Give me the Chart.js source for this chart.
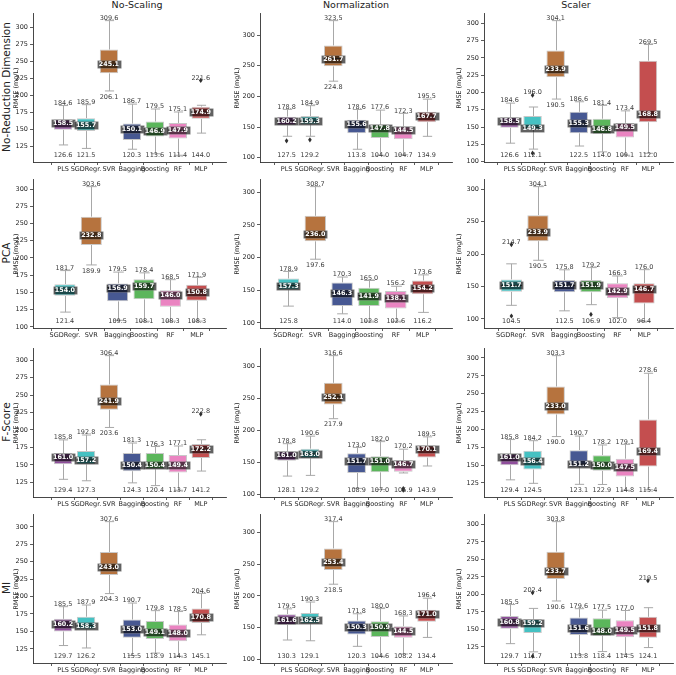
<!DOCTYPE html>
<html>
<head>
<meta charset="utf-8">
<script src="https://cdn.jsdelivr.net/npm/chart.js@4.4.1/dist/chart.umd.min.js"></script>
<style>
  body { margin: 0; background: #fff; }
  #fig { position: relative; width: 676px; height: 675px; font-family: "DejaVu Sans", sans-serif; color: #222; overflow: hidden; }
  .panel { position: absolute; }
  .coltitle { position: absolute; top: 0; font-size: 9.5px; line-height: 9.5px; transform: translateX(-50%); white-space: nowrap; }
  .rowtitle { position: absolute; left: 6px; font-size: 10.5px; line-height: 10.5px; white-space: nowrap; transform: translate(-50%, -50%) rotate(-90deg); }
</style>
</head>
<body>
<div id="fig"></div>
<script>
// column / row headings
const scalings = ["No-Scaling", "Normalization", "Scaler"];
const reductions = ["No-Reduction Dimension", "PCA", "F-Score", "MI"];

// models per row (PCA row has no PLS)
const modelsAll = ["PLS", "SGDRegr.", "SVR", "Bagging", "Boosting", "RF", "MLP"];
const modelsPCA = ["SGDRegr.", "SVR", "Bagging", "Boosting", "RF", "MLP"];
const rowModels = [modelsAll, modelsPCA, modelsAll, modelsAll];

// panel order: row by row, No-Scaling / Normalization / Scaler
const maxVals = [
  [184.6, 185.9, 309.6, 186.7, 179.5, 175.1, 221.6],
  [178.8, 184.9, 323.5, 178.6, 177.6, 172.3, 195.5],
  [184.6, 196.0, 304.1, 186.6, 181.4, 173.4, 269.5],
  [181.7, 303.6, 179.5, 178.4, 168.5, 171.9],
  [178.9, 308.7, 170.3, 165.0, 156.2, 173.6],
  [214.7, 304.1, 175.8, 179.2, 166.3, 176.0],
  [185.8, 192.8, 306.4, 181.3, 176.3, 177.1, 222.8],
  [178.8, 190.6, 316.6, 173.0, 182.0, 170.2, 189.5],
  [185.8, 184.2, 303.3, 190.7, 178.2, 179.1, 278.6],
  [185.5, 187.9, 307.6, 190.7, 179.8, 178.5, 204.6],
  [179.5, 190.3, 317.4, 171.8, 180.0, 168.3, 196.4],
  [185.5, 202.4, 303.8, 179.6, 177.5, 177.0, 219.5]
];
const medVals = [
  [158.5, 155.7, 245.1, 150.1, 146.9, 147.9, 174.9],
  [160.2, 159.3, 261.7, 155.6, 147.8, 144.5, 167.7],
  [158.5, 149.3, 233.9, 155.3, 146.8, 149.5, 168.8],
  [154.0, 232.8, 156.9, 159.7, 146.0, 150.8],
  [157.3, 236.0, 146.3, 141.9, 138.1, 154.2],
  [151.7, 233.9, 151.7, 151.9, 142.9, 146.7],
  [161.0, 157.2, 241.9, 150.4, 150.4, 149.4, 172.2],
  [161.0, 163.0, 252.1, 151.7, 151.0, 146.7, 170.1],
  [161.0, 156.4, 233.0, 151.2, 150.0, 147.5, 169.4],
  [160.2, 158.3, 243.0, 153.0, 149.1, 148.0, 170.8],
  [161.6, 162.5, 253.4, 150.3, 150.9, 144.5, 171.0],
  [160.8, 159.2, 233.7, 151.6, 148.0, 149.5, 151.8]
];
const minVals = [
  [126.6, 121.5, 206.1, 120.3, 113.6, 111.4, 144.0],
  [127.5, 129.2, 224.8, 113.8, 104.0, 104.7, 134.9],
  [126.6, 112.1, 190.5, 122.5, 114.0, 109.1, 112.0],
  [121.4, 189.9, 109.5, 108.1, 108.3, 108.3],
  [125.8, 197.6, 114.0, 102.8, 102.6, 116.2],
  [104.5, 190.5, 112.5, 106.9, 102.0, 96.4],
  [129.4, 127.3, 203.6, 124.3, 120.4, 113.7, 141.2],
  [128.1, 129.2, 217.9, 108.9, 107.0, 105.9, 143.9],
  [129.4, 124.5, 190.0, 123.1, 122.9, 114.8, 115.4],
  [129.7, 126.2, 204.3, 115.5, 118.9, 114.3, 145.1],
  [130.3, 129.1, 218.5, 120.3, 104.6, 108.2, 134.4],
  [129.7, 111.7, 190.6, 113.8, 118.4, 114.5, 124.1]
];
const q1Vals = [
  [149, 147, 232, 134, 139, 136, 165],
  [153, 154, 249, 140, 132, 130, 158],
  [149, 146, 222, 141, 140, 135, 157],
  [145, 219, 137, 140, 129, 138],
  [151, 225, 126, 126, 122, 144],
  [142, 220, 141, 141, 132, 124],
  [151, 151, 229, 141, 144, 139, 160],
  [152, 156, 240, 133, 134, 135, 157],
  [150, 144, 221, 147, 142, 134, 148],
  [150, 153, 231, 141, 139, 136, 162],
  [154, 156, 241, 139, 135, 134, 159],
  [151, 145, 222, 142, 141, 139, 138]
];
const q3Vals = [
  [164, 166, 267, 158, 161, 159, 183],
  [167, 168, 283, 162, 154, 151, 175],
  [164, 166, 261, 172, 162, 156, 246],
  [162, 260, 163, 169, 153, 161],
  [168, 264, 162, 154, 149, 165],
  [161, 260, 160, 160, 155, 155],
  [167, 170, 265, 167, 167, 164, 180],
  [167, 171, 274, 164, 159, 153, 176],
  [166, 170, 260, 171, 164, 159, 214],
  [168, 171, 264, 167, 165, 160, 183],
  [171, 173, 275, 161, 160, 152, 178],
  [169, 165, 261, 167, 166, 163, 168]
];
// [panel, model index, whisker low, whisker high] where fliers exist
const whiskerEnds = [
  [0, 6, 144.0, 185],
  [1, 0, 135, 178.8], [1, 1, 135, 184.9],
  [2, 1, 118, 179],
  [5, 0, 121, 185], [5, 3, 122, 179.2],
  [6, 6, 141.2, 186],
  [7, 5, 133, 170.2],
  [11, 1, 118, 180], [11, 6, 124.1, 181]
];
// [panel, model index, value]
const fliers = [
  [0, 6, 221.6],
  [1, 0, 127.5], [1, 1, 129.2],
  [2, 1, 196.0], [2, 1, 112.1],
  [5, 0, 214.7], [5, 0, 104.5], [5, 3, 106.9],
  [6, 6, 222.8],
  [7, 5, 108.5], [7, 5, 105.9],
  [11, 1, 202.4], [11, 1, 111.7], [11, 6, 219.5]
];
const tickSteps = [25, 50, 25, 25, 50, 50, 25, 50, 25, 25, 50, 25];

const modelColors = {
  "PLS": "#8f4e9c",
  "SGDRegr.": "#45c1c2",
  "SVR": "#b6733e",
  "Bagging": "#475892",
  "Boosting": "#5bb65b",
  "RF": "#ea84c1",
  "MLP": "#c44e4f"
};

// layout (pixels)
const colSpine = [33, 260, 484];
const colRight = [226, 452, 673];
const colGap = [19, 15, 14];
const canvasLeft = [13, 234, 456];
const colTitleX = [137, 356, 576];
const rowTop = [12, 178, 346.5, 513.3];
const areaH = 150;
const FONT = "'DejaVu Sans', sans-serif";

const fig = document.getElementById("fig");

scalings.forEach((s, c) => {
  const d = document.createElement("div");
  d.className = "coltitle";
  d.style.left = colTitleX[c] + "px";
  d.textContent = s;
  fig.appendChild(d);
});
reductions.forEach((s, r) => {
  const d = document.createElement("div");
  d.className = "rowtitle";
  d.style.top = (rowTop[r] + areaH / 2) + "px";
  d.textContent = s;
  fig.appendChild(d);
});

function whiskerRange(p, i) {
  let lo = minVals[p][i], hi = maxVals[p][i];
  whiskerEnds.forEach((w) => {
    if (w[0] === p && w[1] === i) { lo = w[2]; hi = w[3]; }
  });
  return { lo, hi };
}

const boxExtras = {
  id: "boxExtras",
  beforeDatasetsDraw(chart, args, opts) {
    const p = opts.panel;
    const xs = chart.scales.x, ys = chart.scales.y;
    const ctx = chart.ctx;
    const step = xs.getPixelForValue(1) - xs.getPixelForValue(0);
    const capW = step * 0.4;
    ctx.save();
    ctx.strokeStyle = "#a8a8a8";
    ctx.lineWidth = 1;
    maxVals[p].forEach((_, i) => {
      const x = Math.round(xs.getPixelForValue(i)) + 0.5;
      const { lo, hi } = whiskerRange(p, i);
      ctx.beginPath();
      ctx.moveTo(x, ys.getPixelForValue(lo));
      ctx.lineTo(x, ys.getPixelForValue(q1Vals[p][i]));
      ctx.moveTo(x, ys.getPixelForValue(q3Vals[p][i]));
      ctx.lineTo(x, ys.getPixelForValue(hi));
      ctx.moveTo(x - capW / 2, ys.getPixelForValue(lo));
      ctx.lineTo(x + capW / 2, ys.getPixelForValue(lo));
      ctx.moveTo(x - capW / 2, ys.getPixelForValue(hi));
      ctx.lineTo(x + capW / 2, ys.getPixelForValue(hi));
      ctx.stroke();
    });
    ctx.restore();
  },
  afterDatasetsDraw(chart, args, opts) {
    const p = opts.panel;
    const models = opts.models;
    const xs = chart.scales.x, ys = chart.scales.y;
    const ctx = chart.ctx;
    const step = xs.getPixelForValue(1) - xs.getPixelForValue(0);
    const boxW = step * 0.8;
    const gmin = Math.min(...minVals[p]);
    ctx.save();
    // fliers
    ctx.fillStyle = "#2f2f2f";
    fliers.forEach((f) => {
      if (f[0] !== p) return;
      const x = xs.getPixelForValue(f[1]), y = ys.getPixelForValue(f[2]);
      ctx.beginPath();
      ctx.moveTo(x, y - 2.6);
      ctx.lineTo(x + 1.8, y);
      ctx.lineTo(x, y + 2.6);
      ctx.lineTo(x - 1.8, y);
      ctx.closePath();
      ctx.fill();
    });
    // median lines + labels
    medVals[p].forEach((m, i) => {
      const x = xs.getPixelForValue(i), y = ys.getPixelForValue(m);
      ctx.strokeStyle = "rgba(60,60,60,0.8)";
      ctx.lineWidth = 1;
      ctx.beginPath();
      ctx.moveTo(x - boxW / 2, y);
      ctx.lineTo(x + boxW / 2, y);
      ctx.stroke();
      const txt = m.toFixed(1);
      ctx.font = "bold 6.4px " + FONT;
      const tw = ctx.measureText(txt).width;
      const bx = Math.round(x - tw / 2 - 2) + 0.5, by = Math.round(y - 4) + 0.5;
      ctx.fillStyle = "rgba(0,0,0,0.62)";
      ctx.fillRect(bx, by, Math.round(tw + 4), 8);
      ctx.strokeStyle = "rgba(255,255,255,0.3)";
      ctx.lineWidth = 0.6;
      ctx.strokeRect(bx, by, Math.round(tw + 4), 8);
      ctx.fillStyle = "#ffffff";
      ctx.textAlign = "center";
      ctx.textBaseline = "middle";
      ctx.fillText(txt, x, by + 4.3);
    });
    // max / min value labels
    ctx.font = "6.5px " + FONT;
    ctx.fillStyle = "#3a3a3a";
    ctx.textAlign = "center";
    ctx.textBaseline = "middle";
    maxVals[p].forEach((v, i) => {
      const x = xs.getPixelForValue(i);
      ctx.fillText(v.toFixed(1), x, ys.getPixelForValue(v) - 2.5);
      const mn = minVals[p][i];
      const yLow = models[i] === "SVR" ? ys.getPixelForValue(mn) + 6 : ys.getPixelForValue(gmin);
      ctx.fillText(mn.toFixed(1), x, yLow);
    });
    ctx.restore();
  }
};

function makePanel(r, c) {
  const p = r * 3 + c;
  const models = rowModels[r];
  const n = models.length;
  const left = canvasLeft[c];
  const top = rowTop[r] - 4;
  const width = colRight[c] + 3 - left;
  const height = areaH + 4 + 13;

  const holder = document.createElement("div");
  holder.className = "panel";
  holder.style.left = left + "px";
  holder.style.top = top + "px";
  const canvas = document.createElement("canvas");
  canvas.width = width;
  canvas.height = height;
  canvas.style.width = width + "px";
  canvas.style.height = height + "px";
  holder.appendChild(canvas);
  fig.appendChild(holder);

  const W = colRight[c] - colSpine[c];
  const spacing = (W - colGap[c]) / (n - 0.5);
  const lo = Math.min(...minVals[p]), hi = Math.max(...maxVals[p]);
  const pad = (hi - lo) * 0.05;

  new Chart(canvas, {
    type: "bar",
    data: {
      datasets: [{
        data: models.map((m, i) => ({ x: i, y: [q1Vals[p][i], q3Vals[p][i]] })),
        backgroundColor: models.map((m) => modelColors[m]),
        borderColor: "#c8c8c8",
        borderWidth: 1,
        borderSkipped: false,
        barPercentage: 0.8,
        categoryPercentage: 1
      }]
    },
    options: {
      responsive: false,
      animation: false,
      devicePixelRatio: 1,
      layout: { padding: { left: 0, top: 4, right: 3, bottom: 1 } },
      plugins: {
        legend: { display: false },
        tooltip: { enabled: false },
        boxExtras: { panel: p, models: models }
      },
      scales: {
        x: {
          type: "linear",
          min: -colGap[c] / spacing,
          max: n - 0.5,
          afterBuildTicks: (s) => { s.ticks = models.map((_, i) => ({ value: i })); },
          afterFit: (s) => { s.height = 12; },
          ticks: {
            callback: (v) => models[v],
            font: { size: 6.5, family: FONT },
            color: "#262626",
            padding: 0,
            maxRotation: 0,
            autoSkip: false
          },
          grid: { drawOnChartArea: false, drawTicks: true, tickLength: 3, color: "#333", lineWidth: 0.8 },
          border: { display: true, color: "#333", width: 0.9 }
        },
        y: {
          min: lo - pad,
          max: hi + pad,
          afterFit: (s) => { s.width = colSpine[c] - left; },
          ticks: {
            stepSize: tickSteps[p],
            includeBounds: false,
            font: { size: 6.5, family: FONT },
            color: "#262626",
            padding: 2
          },
          grid: { drawOnChartArea: false, drawTicks: true, tickLength: 3, color: "#333", lineWidth: 0.8 },
          border: { display: true, color: "#333", width: 0.9 },
          title: {
            display: true,
            text: "RMSE (mg/L)",
            font: { size: 6.4, family: FONT },
            color: "#262626",
            padding: { top: 0, bottom: 0 }
          }
        }
      }
    },
    plugins: [boxExtras]
  });
}

for (let r = 0; r < 4; r++) {
  for (let c = 0; c < 3; c++) makePanel(r, c);
}
</script>
</body>
</html>
